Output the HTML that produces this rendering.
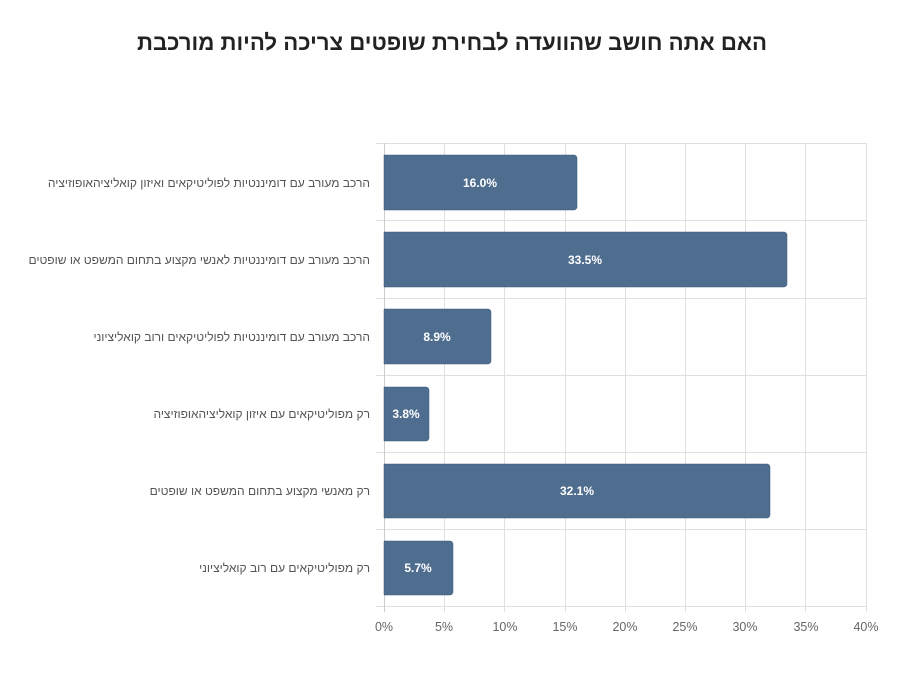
<!DOCTYPE html>
<html><head><meta charset="utf-8"><style>
body{margin:0;background:#fff;}
svg{display:block}
text{font-family:"Liberation Sans","Noto Sans CJK SC",sans-serif;}
</style></head><body>
<svg width="900" height="700" xmlns="http://www.w3.org/2000/svg">
<rect width="900" height="700" fill="#fff"/>
<text x="452" y="50" text-anchor="middle" font-size="22.2" font-weight="bold" fill="#222" direction="rtl">האם אתה חושב שהוועדה לבחירת שופטים צריכה להיות מורכבת</text>
<g stroke="#e0e0e0" stroke-width="1">
<line x1="384.5" y1="143" x2="384.5" y2="606"/>
<line x1="444.5" y1="143" x2="444.5" y2="612"/>
<line x1="504.5" y1="143" x2="504.5" y2="612"/>
<line x1="565.5" y1="143" x2="565.5" y2="612"/>
<line x1="625.5" y1="143" x2="625.5" y2="612"/>
<line x1="685.5" y1="143" x2="685.5" y2="612"/>
<line x1="745.5" y1="143" x2="745.5" y2="612"/>
<line x1="805.5" y1="143" x2="805.5" y2="612"/>
<line x1="866.5" y1="143" x2="866.5" y2="612"/>
<line x1="376" y1="143.5" x2="866" y2="143.5"/>
<line x1="376" y1="220.5" x2="866" y2="220.5"/>
<line x1="376" y1="298.5" x2="866" y2="298.5"/>
<line x1="376" y1="375.5" x2="866" y2="375.5"/>
<line x1="376" y1="452.5" x2="866" y2="452.5"/>
<line x1="376" y1="529.5" x2="866" y2="529.5"/>
<line x1="376" y1="606.5" x2="866" y2="606.5"/>
</g>
<line x1="384.5" y1="143" x2="384.5" y2="612" stroke="#ccc"/>
<g fill="#4f6d8f" stroke="#3f5a78" stroke-width="0.5">
<path d="M384 155 H574 a3 3 0 0 1 3 3 V207 a3 3 0 0 1 -3 3 H384Z"/>
<path d="M384 232 H784 a3 3 0 0 1 3 3 V284 a3 3 0 0 1 -3 3 H384Z"/>
<path d="M384 309 H488 a3 3 0 0 1 3 3 V361 a3 3 0 0 1 -3 3 H384Z"/>
<path d="M384 387 H426 a3 3 0 0 1 3 3 V438 a3 3 0 0 1 -3 3 H384Z"/>
<path d="M384 464 H767 a3 3 0 0 1 3 3 V515 a3 3 0 0 1 -3 3 H384Z"/>
<path d="M384 541 H450 a3 3 0 0 1 3 3 V592 a3 3 0 0 1 -3 3 H384Z"/>
</g>
<g fill="#fff" font-size="12" font-weight="bold" text-anchor="middle">
<text x="480" y="187">16.0%</text>
<text x="585" y="264">33.5%</text>
<text x="437" y="341">8.9%</text>
<text x="406" y="418">3.8%</text>
<text x="577" y="495">32.1%</text>
<text x="418" y="572">5.7%</text>
</g>
<g fill="#555" font-size="12" text-anchor="start" direction="rtl">
<text x="370" y="187">הרכב מעורב עם דומיננטיות לפוליטיקאים ואיזון קואליציהאופוזיציה</text>
<text x="370" y="264">הרכב מעורב עם דומיננטיות לאנשי מקצוע בתחום המשפט או שופטים</text>
<text x="370" y="341">הרכב מעורב עם דומיננטיות לפוליטיקאים ורוב קואליציוני</text>
<text x="370" y="418">רק מפוליטיקאים עם איזון קואליציהאופוזיציה</text>
<text x="370" y="495">רק מאנשי מקצוע בתחום המשפט או שופטים</text>
<text x="370" y="572">רק מפוליטיקאים עם רוב קואליציוני</text>
</g>
<g fill="#666" font-size="12.5" text-anchor="middle">
<text x="384" y="631">0%</text>
<text x="444" y="631">5%</text>
<text x="505" y="631">10%</text>
<text x="565" y="631">15%</text>
<text x="625" y="631">20%</text>
<text x="685" y="631">25%</text>
<text x="745" y="631">30%</text>
<text x="806" y="631">35%</text>
<text x="866" y="631">40%</text>
</g>
</svg>
</body></html>
